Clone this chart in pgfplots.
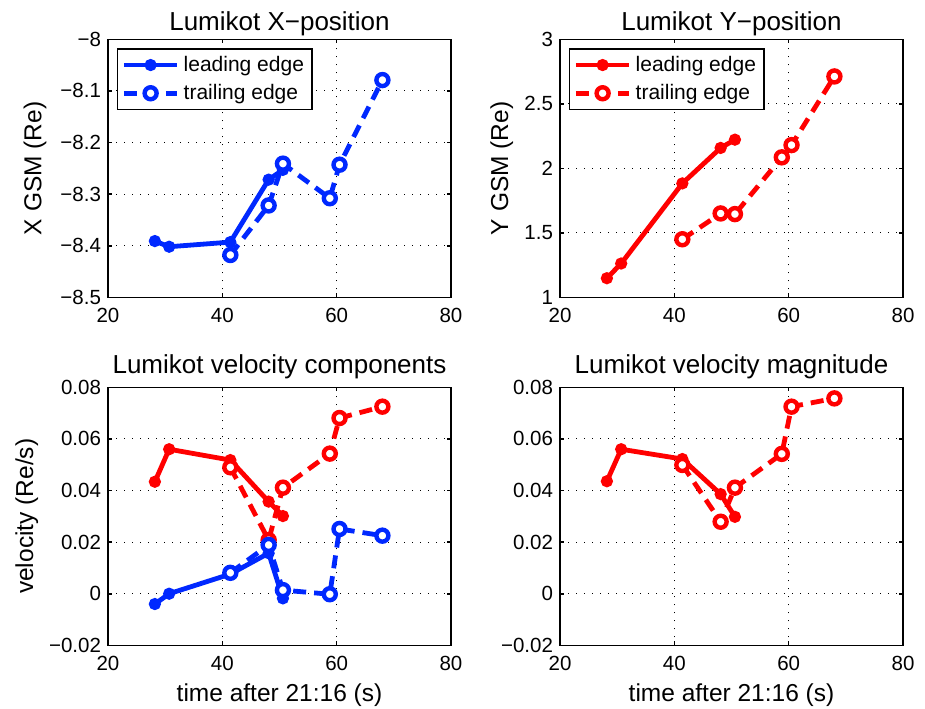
\documentclass[border=0pt]{standalone}
\usepackage{fontspec}
\setmainfont{Liberation Sans}
\usepackage{pgfplots}
\pgfplotsset{compat=1.18}

\definecolor{mblue}{RGB}{0,40,255}
\definecolor{mred}{RGB}{255,0,0}

% one pixel of the reference = 0.5pt
\pgfplotsset{
  mat/.style={
    scale only axis, width=171.5pt, height=129pt,
    anchor=north west, clip=false,
    xmin=20, xmax=80, xtick={20,40,60,80},
    scaled y ticks=false,
    /pgf/number format/assume math mode=true,
    grid=major,
    major grid style={black, line width=0.5pt, dash pattern=on 0.5pt off 3.5pt},
    axis line style={line width=0.8pt},
    tick style={black, line width=0.8pt},
    major tick length=2pt,
    tick align=inside, tick pos=both,
    tick label style={font=\fontsize{10.25}{12}\selectfont},
    xticklabel style={anchor=base, yshift=-12.5pt},
    label style={font=\fontsize{12.25}{14}\selectfont},
    every axis title shift=0pt,
    title style={font=\fontsize{13}{15}\selectfont, anchor=base},
    xlabel style={at={(axis description cs:0.5,-0.217)}, anchor=base},
    legend style={font=\fontsize{10.5}{12}\selectfont, draw=black, line width=0.6pt,
      at={(0.026,0.965)}, anchor=north west, inner xsep=2pt, inner ysep=1.5pt,
      row sep=1pt},
    legend cell align=left,
    legend image code/.code={\draw[mark repeat=2,mark phase=2,#1]
      plot coordinates {(0pt,0pt) (13.35pt,0pt) (26.7pt,0pt)};},
  },
  lead/.style={#1, line width=2.4pt, mark=*, mark size=1.8pt,
    mark options={solid, fill=#1}},
  trail/.style={#1, line width=2.4pt, dash pattern=on 6.5pt off 4pt,
    mark=*, mark size=3pt, mark options={solid, draw=#1, fill=white, line width=2.2pt}},
}

\begin{document}
\begin{tikzpicture}
\path[use as bounding box] (0,0) rectangle (462.5pt,-354pt);

% X position
\begin{axis}[mat, at={(54pt,-19.65pt)},
  ymin=-8.5, ymax=-8,
  ytick={-8.5,-8.4,-8.3,-8.2,-8.1,-8},
  yticklabels={−8.5,−8.4,−8.3,−8.2,−8.1,−8},
  title={Lumikot X−position}, title style={at={(axis description cs:0.5,1.036)}},
  ylabel={X GSM (Re)}, ylabel style={at={(axis description cs:-0.213,0.5)}, anchor=center}]
\addplot[lead=mblue] coordinates {(28.2,-8.391) (30.7,-8.402) (41.4,-8.393) (48.1,-8.272) (50.6,-8.253)};
\addplot[trail=mblue] coordinates {(41.4,-8.418) (48.1,-8.322) (50.6,-8.241) (58.8,-8.308) (60.5,-8.243) (68.0,-8.079)};
\legend{leading edge, trailing edge}
\end{axis}

% Y position
\begin{axis}[mat, at={(280pt,-19.65pt)},
  ymin=1, ymax=3, ytick={1,1.5,2,2.5,3},
  title={Lumikot Y−position}, title style={at={(axis description cs:0.5,1.036)}},
  ylabel={Y GSM (Re)}, ylabel style={at={(axis description cs:-0.17,0.5)}, anchor=center}]
\addplot[lead=mred] coordinates {(28.2,1.148) (30.7,1.262) (41.4,1.883) (48.1,2.158) (50.6,2.222)};
\addplot[trail=mred] coordinates {(41.4,1.45) (48.1,1.65) (50.6,1.645) (58.8,2.085) (60.5,2.18) (68.0,2.712)};
\legend{leading edge, trailing edge}
\end{axis}

% velocity components
\begin{axis}[mat, at={(54pt,-193.65pt)},
  ymin=-0.02, ymax=0.08,
  ytick={-0.02,0,0.02,0.04,0.06,0.08},
  yticklabels={−0.02,0,0.02,0.04,0.06,0.08},
  title={Lumikot velocity components}, title style={at={(axis description cs:0.5,1.054)}},
  xlabel={time after 21:16 (s)},
  ylabel={velocity (Re/s)}, ylabel style={at={(axis description cs:-0.237,0.5)}, anchor=center}]
\addplot[lead=mred] coordinates {(28.2,0.0434) (30.7,0.056) (41.4,0.0518) (48.1,0.0357) (50.6,0.0301)};
\addplot[trail=mred] coordinates {(41.4,0.049) (48.1,0.0208) (50.6,0.0411) (58.8,0.0543) (60.5,0.0681) (68.0,0.0725)};
\addplot[lead=mblue] coordinates {(28.2,-0.004) (30.7,0.0) (41.4,0.0076) (48.1,0.0157) (50.6,-0.0018)};
\addplot[trail=mblue] coordinates {(41.4,0.0081) (48.1,0.0189) (50.6,0.0014) (58.8,-0.0002) (60.5,0.0251) (68.0,0.0225)};
\end{axis}

% velocity magnitude
\begin{axis}[mat, at={(280pt,-193.65pt)},
  ymin=-0.02, ymax=0.08,
  ytick={-0.02,0,0.02,0.04,0.06,0.08},
  yticklabels={−0.02,0,0.02,0.04,0.06,0.08},
  title={Lumikot velocity magnitude}, title style={at={(axis description cs:0.5,1.054)}},
  xlabel={time after 21:16 (s)}]
\addplot[lead=mred] coordinates {(28.2,0.0436) (30.7,0.056) (41.4,0.0522) (48.1,0.0386) (50.6,0.0298)};
\addplot[trail=mred] coordinates {(41.4,0.0499) (48.1,0.0279) (50.6,0.0411) (58.8,0.0542) (60.5,0.0725) (68.0,0.0757)};
\end{axis}
\end{tikzpicture}
\end{document}
